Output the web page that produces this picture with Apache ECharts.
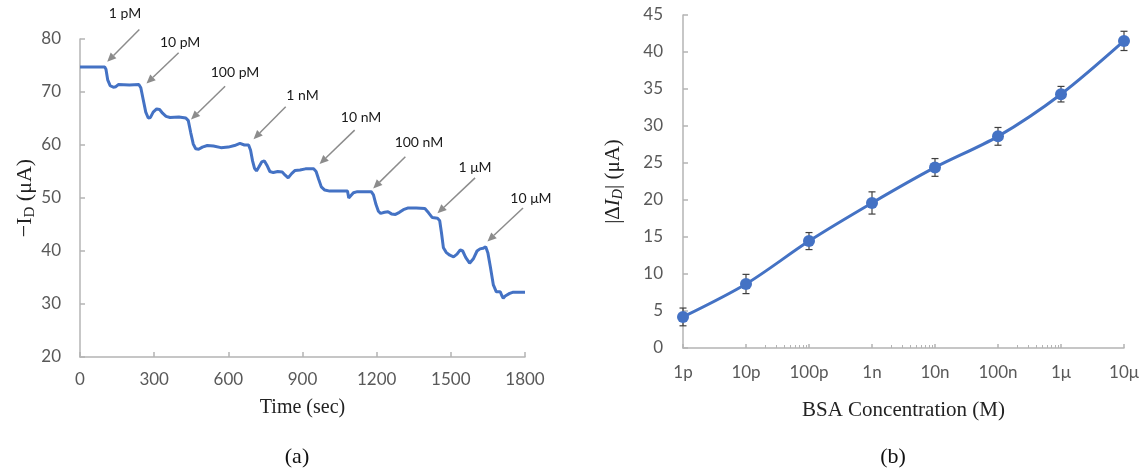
<!DOCTYPE html>
<html>
<head>
<meta charset="utf-8">
<script src="https://cdn.jsdelivr.net/npm/echarts@6/dist/echarts.min.js"></script>
<style>
html,body{margin:0;padding:0;background:#fff}
#main{width:1145px;height:472px}
</style>
</head>
<body>
<div id="main"></div>
<script>
'use strict'
// (a) drain current vs time
var timeSec = [0,100,105,112,122,135,145,155,200,238,246,256,266,276,285,296,310,322,334,348,364,400,428,438,448,458,468,480,495,515,540,570,600,625,647,665,682,690,698,706,714,724,735,746,756,768,782,800,818,830,842,856,870,890,912,945,955,965,976,990,1010,1050,1082,1087,1095,1106,1122,1178,1187,1197,1207,1216,1232,1246,1260,1276,1292,1308,1325,1360,1395,1410,1425,1446,1455,1462,1470,1482,1496,1511,1525,1538,1548,1560,1576,1592,1606,1618,1630,1641,1650,1660,1672,1684,1700,1706,1712,1720,1728,1738,1750,1800]
var currentUA = [74.7,74.7,74.3,72.3,71.2,70.9,71.0,71.4,71.3,71.4,70.8,68.5,66.2,65.1,65.2,66.2,66.8,66.7,66.0,65.4,65.2,65.3,65.1,64.6,62.3,60.2,59.3,59.2,59.6,59.9,59.8,59.5,59.6,59.9,60.3,60.0,60.0,59.0,57.0,55.6,55.1,55.9,56.8,57.0,56.2,55.0,54.8,55.0,54.9,54.3,53.8,54.6,55.2,55.3,55.5,55.5,55.0,53.6,52.1,51.5,51.3,51.3,51.3,50.0,50.3,51.0,51.2,51.2,50.6,48.8,47.5,47.1,47.3,47.4,47.0,46.9,47.3,47.8,48.1,48.1,48.0,47.2,46.3,46.2,45.7,43.5,40.6,39.7,39.2,38.9,39.4,40.2,40.0,38.8,37.7,38.6,40.0,40.4,40.5,40.8,39.6,37.0,33.6,32.3,32.3,31.6,31.1,31.5,31.4,32.0,32.2,32.2]
var timeTicks = [0,300,600,900,1200,1500,1800]
var currentTicks = [20,30,40,50,60,70,80]

// additions marked with arrows (data coords)
var addLabels = ['1 pM','10 pM','100 pM','1 nM','10 nM','100 nM','1 μM','10 μM']
var labelTime = [182,405,627,900,1137,1371,1598,1824]
var labelCurrent = [84.8,79.4,73.6,69.4,65.1,60.4,55.8,50.0]
var arrowFromTime = [240,399,587,832,1111,1316,1598,1792]
var arrowFromCurrent = [81.8,77.4,71.1,67.2,62.8,57.8,53.8,48.1]
var arrowToTime = [110,269,449,702,969,1186,1446,1648]
var arrowToCurrent = [75.7,71.6,64.8,61.1,56.4,51.8,47.1,41.8]

// (b) calibration
var concLabels = ['1p','10p','100p','1n','10n','100n','1μ','10μ']
var concExp = [-12,-11,-10,-9,-8,-7,-6,-5]
var deltaI = [4.2,8.65,14.45,19.6,24.4,28.6,34.3,41.5]
var deltaErr = [1.2,1.3,1.15,1.5,1.2,1.2,1.05,1.3]
var deltaTicks = [0,5,10,15,20,25,30,35,40,45]

var axisGray = '#b4b4b4'
var tickText = '#595959'
var blue = '#4472C4'
var serif = '"Liberation Serif", "DejaVu Serif", serif'

// minor log ticks only in every other decade, as in the source plot
var minorExp = []
;[-11,-9,-7].forEach(function (d) {
    for (var k = 2; k <= 9; k++) minorExp.push(d + Math.log10(k))
})

var traceData = timeSec.map(function (t, i) { return [t, currentUA[i]] })
var arrowData = arrowFromTime.map(function (t, i) {
    return [t, arrowFromCurrent[i], arrowToTime[i], arrowToCurrent[i], labelTime[i], labelCurrent[i]]
})
var calData = concExp.map(function (e, i) { return [e, deltaI[i]] })
var errData = concExp.map(function (e, i) { return [e, deltaI[i], deltaErr[i]] })

function baseAxis(gridIndex) {
    return {
        gridIndex: gridIndex,
        axisLine: {show: true, lineStyle: {color: axisGray, width: 1.5}},
        axisTick: {show: true, inside: true, length: 5, lineStyle: {color: axisGray, width: 1.5}},
        axisLabel: {color: tickText, fontSize: 17, fontFamily: 'Lato', formatter: function (v) { return String(v) }},
        splitLine: {show: false}
    }
}

var xA = baseAxis(0)
xA.type = 'value'
xA.min = timeTicks[0]; xA.max = timeTicks[timeTicks.length - 1]; xA.interval = timeTicks[1] - timeTicks[0]
xA.axisLabel.margin = 14
xA.name = 'Time (sec)'; xA.nameLocation = 'middle'; xA.nameGap = 41
xA.nameTextStyle = {fontFamily: serif, fontSize: 20, color: '#222'}

var yA = baseAxis(0)
yA.type = 'value'
yA.min = currentTicks[0]; yA.max = currentTicks[currentTicks.length - 1]; yA.interval = currentTicks[1] - currentTicks[0]
yA.axisLabel.margin = 19
yA.name = '{t|−I}{s|D}{t| (μA)}'; yA.nameLocation = 'middle'; yA.nameGap = 40; yA.nameRotate = 90
yA.nameTextStyle = {rich: {
    t: {fontFamily: serif, fontSize: 22, color: '#222'},
    s: {fontFamily: serif, fontSize: 15, color: '#222', padding: [10, 0, 0, 0]}
}}

var xB = baseAxis(1)
xB.type = 'value'
xB.min = concExp[0]; xB.max = concExp[concExp.length - 1]; xB.interval = 1
xB.axisTick.length = 4
xB.axisLabel.margin = 16
xB.axisLabel.formatter = function (v) { return concLabels[concExp.indexOf(Math.round(v))] }
xB.name = 'BSA Concentration (M)'; xB.nameLocation = 'middle'; xB.nameGap = 52
xB.nameTextStyle = {fontFamily: serif, fontSize: 21, color: '#222'}

var xMinor = {
    type: 'value', gridIndex: 1, position: 'bottom',
    min: concExp[0], max: concExp[concExp.length - 1],
    axisLine: {show: false},
    axisTick: {show: true, inside: true, length: 3, customValues: minorExp, lineStyle: {color: axisGray, width: 1}},
    axisLabel: {show: false},
    splitLine: {show: false}
}

var yB = baseAxis(1)
yB.type = 'value'
yB.min = deltaTicks[0]; yB.max = deltaTicks[deltaTicks.length - 1]; yB.interval = deltaTicks[1] - deltaTicks[0]
yB.axisLabel.margin = 20
yB.name = '{t||Δ}{i|I}{s|D}{t|| (μA)}'; yB.nameLocation = 'middle'; yB.nameGap = 58; yB.nameRotate = 90
yB.nameTextStyle = {rich: {
    t: {fontFamily: serif, fontSize: 21, color: '#222'},
    i: {fontFamily: serif, fontSize: 21, fontStyle: 'italic', color: '#222'},
    s: {fontFamily: serif, fontSize: 14, fontStyle: 'italic', color: '#222', padding: [10, 0, 0, 0]}
}}

var option = {
    animation: false,
    backgroundColor: '#fff',
    grid: [
        {left: 80, top: 39, width: 445, height: 318},
        {left: 683, top: 15, width: 441, height: 333}
    ],
    xAxis: [xA, xB, xMinor],
    yAxis: [yA, yB],
    graphic: [
        {type: 'text', x: 297, y: 457, style: {text: '(a)', align: 'center', verticalAlign: 'middle', font: '22px ' + serif, fill: '#111'}},
        {type: 'text', x: 893, y: 457, style: {text: '(b)', align: 'center', verticalAlign: 'middle', font: '22px ' + serif, fill: '#111'}}
    ],
    series: [
        {
            type: 'line', xAxisIndex: 0, yAxisIndex: 0,
            data: traceData, showSymbol: false,
            lineStyle: {color: blue, width: 3}
        },
        {
            type: 'custom', xAxisIndex: 0, yAxisIndex: 0,
            data: arrowData, clip: false, silent: true,
            encode: {x: [0, 2, 4], y: [1, 3, 5]},
            renderItem: function (params, api) {
                var p0 = api.coord([api.value(0), api.value(1)])
                var p1 = api.coord([api.value(2), api.value(3)])
                var pt = api.coord([api.value(4), api.value(5)])
                var dx = p1[0] - p0[0], dy = p1[1] - p0[1]
                var len = Math.sqrt(dx * dx + dy * dy)
                var ux = dx / len, uy = dy / len
                var head = 9, half = 4
                var b = [p1[0] - ux * head, p1[1] - uy * head]
                return {type: 'group', children: [
                    {type: 'line', shape: {x1: p0[0], y1: p0[1], x2: b[0], y2: b[1]}, style: {stroke: '#8c8c8c', lineWidth: 1.5}},
                    {type: 'polygon', shape: {points: [p1, [b[0] - uy * half, b[1] + ux * half], [b[0] + uy * half, b[1] - ux * half]]}, style: {fill: '#8c8c8c'}},
                    {type: 'text', style: {x: pt[0], y: pt[1], text: addLabels[params.dataIndex], align: 'center', verticalAlign: 'middle', font: '14px Lato', fill: '#1a1a1a'}}
                ]}
            }
        },
        {
            type: 'custom', xAxisIndex: 1, yAxisIndex: 1,
            data: errData, silent: true, z: 1,
            encode: {x: 0, y: 1},
            renderItem: function (params, api) {
                var x = api.value(0), y = api.value(1), e = api.value(2)
                var top = api.coord([x, y + e]), bot = api.coord([x, y - e])
                var w = 3.5
                var st = {stroke: '#404040', lineWidth: 1.2}
                return {type: 'group', children: [
                    {type: 'line', shape: {x1: top[0], y1: top[1], x2: bot[0], y2: bot[1]}, style: st},
                    {type: 'line', shape: {x1: top[0] - w, y1: top[1], x2: top[0] + w, y2: top[1]}, style: st},
                    {type: 'line', shape: {x1: bot[0] - w, y1: bot[1], x2: bot[0] + w, y2: bot[1]}, style: st}
                ]}
            }
        },
        {
            type: 'line', xAxisIndex: 1, yAxisIndex: 1, z: 2,
            data: calData, smooth: 0.3,
            symbol: 'circle', symbolSize: 12,
            itemStyle: {color: blue},
            lineStyle: {color: blue, width: 3}
        }
    ]
}

var myChart = echarts.init(document.getElementById('main'))
myChart.setOption(option)
</script>
</body>
</html>
